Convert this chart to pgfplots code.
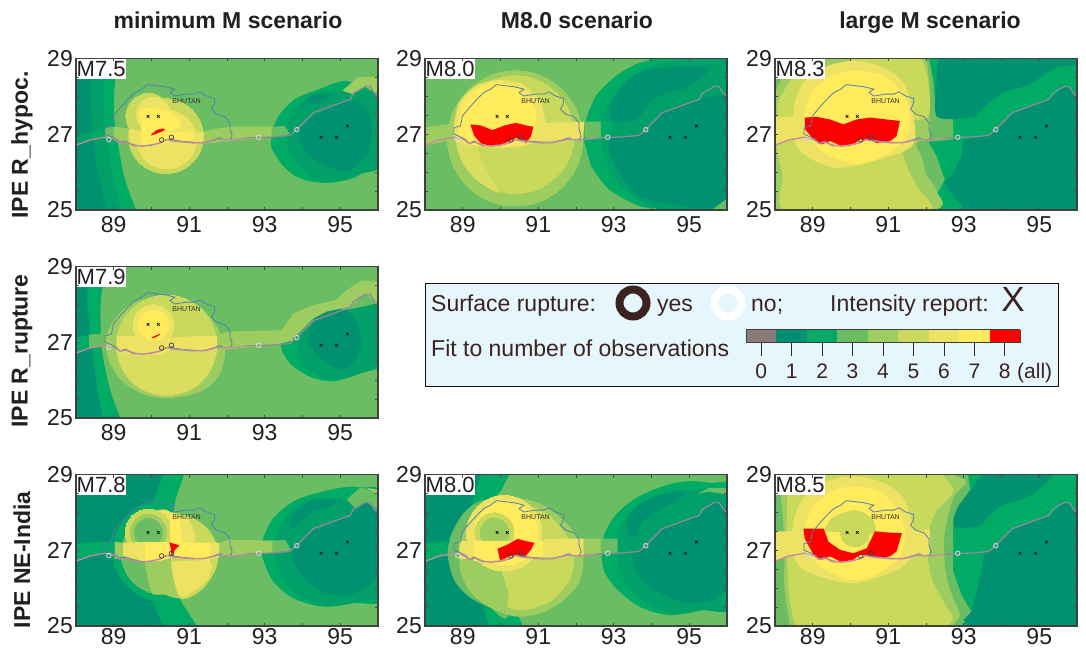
\documentclass[border=0pt]{standalone}
\usepackage{pgfplots}
\usepackage{pgfplotstable}
\usepackage{fontspec}
\setmainfont{Liberation Sans}
\pgfplotsset{compat=1.18}

\definecolor{c0}{HTML}{8B7B78}
\definecolor{c1}{HTML}{009270}
\definecolor{cm}{HTML}{00A068}
\definecolor{c2}{HTML}{00AB65}
\definecolor{c3}{HTML}{6BBD63}
\definecolor{c4}{HTML}{9DCC60}
\definecolor{c5}{HTML}{C8D95C}
\definecolor{c56}{HTML}{D9DD60}
\definecolor{c6}{HTML}{EEE265}
\definecolor{c7}{HTML}{FFEB5B}
\definecolor{c8}{HTML}{FF0000}
\definecolor{frontw}{HTML}{C48AA0}
\definecolor{fronte}{HTML}{8E8A9A}
\definecolor{borderline}{HTML}{5580A5}
\definecolor{txt}{HTML}{231F20}
\definecolor{legtxt}{HTML}{3B2320}
\definecolor{legbg}{HTML}{E6F6FD}

% Bhutan border
\pgfplotstableread{
x y
88.77 27.17
88.94 27.22
88.99 27.48
89.17 27.70
89.39 27.94
89.56 28.10
89.74 28.19
89.89 28.31
90.14 28.28
90.38 28.25
90.62 28.19
90.49 28.10
90.62 28.01
90.93 28.06
91.15 28.06
91.28 28.12
91.46 28.01
91.68 27.94
91.66 27.79
91.59 27.66
91.73 27.53
91.95 27.46
92.08 27.30
92.08 27.13
92.14 26.95
92.08 26.86
91.90 26.86
91.81 26.91
91.64 26.85
91.37 26.77
91.11 26.79
90.84 26.81
90.62 26.84
90.53 26.88
90.40 26.86
90.23 26.77
89.96 26.70
89.74 26.69
89.52 26.72
89.30 26.82
89.17 26.76
89.08 26.86
88.94 26.93
88.77 27.00
88.77 27.17
}\borderdata

% mountain front, west part
\pgfplotstableread{
x y
88.00 26.71
88.37 26.85
88.77 26.92
88.99 26.88
89.17 26.76
89.34 26.79
89.52 26.70
89.78 26.69
90.00 26.72
90.23 26.77
90.40 26.86
90.58 26.82
91.11 26.77
91.46 26.79
91.73 26.86
91.90 26.86
92.12 26.85
92.52 26.90
}\frontwest

% mountain front, east part
\pgfplotstableread{
x y
92.52 26.90
93.23 26.93
93.67 26.97
93.85 27.13
94.29 27.57
94.64 27.70
95.26 27.92
95.35 28.08
95.66 28.26
95.79 28.26
95.92 28.06
96.00 28.01
}\fronteast

\newcommand{\reg}[2]{\addplot[fill=#1,draw=none,forget plot] coordinates {#2};}
\newcommand{\creg}[2]{\addplot[fill=#1,draw=none,smooth,forget plot] coordinates {#2};}
\newcommand{\blob}[2]{\addplot[fill=#1,draw=none,smooth cycle,forget plot] coordinates {#2};}
\newcommand{\disc}[4]{\addplot[only marks,mark=*,mark size=#4*37.75pt,mark options={fill=#1,draw=#1,line width=0pt},forget plot] coordinates {(#2,#3)};}

\newcommand{\common}[1]{%
  \addplot[borderline,line width=0.8pt,forget plot] table[x=x,y=y] {\borderdata};
  \addplot[frontw,line width=1.3pt,forget plot] table[x=x,y=y] {\frontwest};
  \addplot[fronte,line width=1.3pt,forget plot] table[x=x,y=y] {\fronteast};
  \addplot[only marks,mark=x,mark size=1.9pt,mark options={black,line width=0.6pt},forget plot] coordinates {(89.91,27.47) (90.18,27.47) (94.49,26.92) (94.90,26.92) (95.19,27.22)};
  \addplot[only marks,mark=o,mark size=2.3pt,mark options={white!85!black,line width=0.8pt},forget plot] coordinates {(88.87,26.86) (92.84,26.92) (93.85,27.12)};
  \addplot[only marks,mark=o,mark size=2.3pt,mark options={black!75,line width=0.7pt},forget plot] coordinates {(90.27,26.85) (90.53,26.92)};
  \node[font=\fontsize{7}{8}\selectfont,text=black!80] at (90.93,27.88) {BHUTAN};
  \node[anchor=north west,fill=white,inner xsep=0.5pt,inner ysep=0pt,minimum height=20pt,text=txt,
        font=\fontsize{22}{24}\selectfont] at (rel axis cs:0,1) {#1};
}

\pgfplotsset{panel/.style={
  scale only axis,width=302pt,height=151.5pt,anchor=south west,
  clip mode=individual,
  xmin=88,xmax=96,ymin=25,ymax=29,
  xtick={89,91,93,95},minor xtick={90,92,94},
  ytick={25,27,29},minor ytick={25.5,26,26.5,27.5,28,28.5},
  tick align=inside,major tick length=3pt,minor tick length=3pt,
  tick style={black!70,line width=0.6pt},
  minor tick style={black!70,line width=0.6pt},
  axis line style={black!75,line width=1.1pt},
  axis on top,
  /pgf/number format/assume math mode=true,
  tick label style={font=\fontsize{23}{25}\selectfont,text=txt},
  xticklabel style={inner sep=0pt,yshift=-6pt},
  yticklabel style={inner sep=0pt,xshift=-3pt},
  axis background/.style={fill=c3},
},
lastrow/.style={xticklabel style={yshift=4pt}}}

\begin{document}
\begin{tikzpicture}[x=1pt,y=1pt]
\useasboundingbox (0,0) rectangle (1086,648);

% column and row titles
\node[anchor=base,font=\bfseries\fontsize{23}{25}\selectfont,text=txt] at (228,619) {minimum M scenario};
\node[anchor=base,font=\bfseries\fontsize{23}{25}\selectfont,text=txt] at (577,619) {M8.0 scenario};
\node[anchor=base,font=\bfseries\fontsize{23}{25}\selectfont,text=txt] at (930,619) {large M scenario};
\node[rotate=90,font=\bfseries\fontsize{23}{25}\selectfont,text=txt] at (22,503) {IPE R\_hypoc.};
\node[rotate=90,font=\bfseries\fontsize{23}{25}\selectfont,text=txt] at (22,297) {IPE R\_rupture};
\node[rotate=90,font=\bfseries\fontsize{23}{25}\selectfont,text=txt] at (22,88) {IPE NE-India};

% ---- row 1, minimum M
\begin{axis}[panel,at={(76pt,438pt)}]
\creg{c2}{(87.5,29.5)(89.2,29.5)(89.15,29)(89.03,28.37)(89.01,27.48)(89.12,26.68)(89.3,25.8)(89.59,25)(89.8,24.5)(87.5,24.5)}
\creg{cm}{(87.5,29.5)(88.8,29.5)(88.77,29)(88.74,28.2)(88.77,27.3)(88.9,26.25)(89.17,25)(89.3,24.5)(87.5,24.5)}
\creg{c1}{(87.5,29.5)(88.45,29.5)(88.42,29)(88.39,28.2)(88.42,27.3)(88.55,26.15)(88.8,25)(88.9,24.5)(87.5,24.5)}
\reg{cm}{(87.9,26.98)(88.42,27.05)(88.42,26.83)(87.9,26.68)}
\reg{c2}{(88.42,27.05)(88.77,27.17)(88.77,26.92)(88.42,26.83)}
\reg{c3}{(88.77,27.17)(89.01,27.2)(89.03,26.85)(88.77,26.92)}
\blob{c2}{(93.18,26.92)(93.23,27.18)(93.4,27.53)(93.8,27.93)(94.33,28.15)(95.04,28.4)(95.39,28.37)(96.3,28.37)(96.3,26.39)(95.92,26.21)(95.39,25.86)(94.77,25.72)(94.24,25.75)(93.8,25.9)(93.45,26.21)(93.18,26.65)}
\blob{cm}{(93.58,26.83)(93.62,27.36)(93.89,27.75)(94.33,28.08)(94.77,28.15)(95.3,28.11)(96.3,27.98)(96.3,26.3)(95.48,25.94)(94.77,25.75)(94.33,25.81)(93.89,26.17)(93.67,26.52)}
\blob{c1}{(93.89,26.96)(93.93,27.14)(94.33,27.49)(94.77,27.71)(95.3,27.89)(95.65,27.71)(95.83,27.36)(95.83,26.92)(95.7,26.47)(95.39,26.12)(95.04,26.03)(94.51,26.21)(94.07,26.56)}
\blob{c1}{(94.07,27.89)(94.33,28.05)(94.77,28.05)(94.59,27.89)(94.24,27.8)}
\reg{c4}{(95.06,28.15)(95.48,28.52)(96.1,28.5)(96.1,28.02)(95.83,28.15)(95.65,28.26)(95.32,28.06)}
\reg{c4}{(89.01,27.2)(89.4,27.15)(90.5,27.1)(91.4,27.08)(91.75,27.15)(92.15,27.2)(93.2,27.2)(93.2,26.93)(92.15,26.83)(91.4,26.75)(90.2,26.7)(89.01,26.85)}
\reg{c3}{(93.18,27.2)(93.53,27.22)(93.67,27.0)(93.18,26.92)}
\disc{c5}{90.38}{26.95}{0.99}
\disc{c6}{90.40}{26.86}{0.78}
\disc{c5}{89.92}{27.48}{0.60}
\disc{c6}{90.05}{27.53}{0.45}
\reg{c6}{(89.4,27.15)(89.7,27.08)(89.74,26.7)(89.43,26.77)}
\reg{c6}{(91.1,27.04)(91.39,27.04)(91.37,26.77)(91.11,26.81)}
\blob{c7}{(89.7,27.35)(89.66,27.6)(89.92,27.7)(90.45,27.6)(90.74,27.38)(90.69,27.14)(90.32,27.04)(89.92,26.95)(89.74,27.08)}
\reg{c7}{(89.7,27.08)(91.1,27.04)(91.1,26.82)(90.5,26.82)(90.23,26.73)(89.74,26.7)}
\blob{c8}{(89.98,26.97)(90.14,27.11)(90.34,27.15)(90.31,27.09)(90.09,27.0)}
\common{M7.5}
\end{axis}

% ---- row 1, M8.0
\begin{axis}[panel,at={(425pt,438pt)}]
\reg{c4}{(87.9,27.17)(88.6,27.26)(88.78,27.26)(88.78,26.86)(87.9,26.68)}
\disc{c4}{90.39}{26.89}{1.79}
\disc{c5}{90.39}{26.99}{1.56}
\blob{c56}{(88.84,26.86)(88.95,26.33)(89.35,25.8)(89.95,25.46)(89.6,26.1)(89.4,26.6)(89.3,26.86)}
\blob{c6}{(88.76,27.13)(88.91,27.83)(89.35,28.28)(89.93,28.43)(90.59,28.32)(91.07,27.83)(91.18,27.3)(91.12,26.86)(90.23,26.64)(88.91,26.77)}
\reg{c6}{(91.16,27.3)(92.09,27.32)(92.22,27.33)(92.22,26.9)(91.12,26.82)}
\blob{c7}{(88.91,26.95)(88.91,27.48)(89.04,27.92)(89.44,28.23)(89.93,28.38)(90.5,28.19)(90.9,27.7)(90.94,27.17)(90.68,26.82)(90.06,26.69)(89.35,26.7)}
\creg{c2}{(92.2,26.86)(92.24,27.3)(92.53,28.01)(93.06,28.54)(93.59,28.85)(93.99,29)(94.3,29.5)(96.5,29.5)(96.5,24.5)(94.4,24.5)(94.21,25)(93.68,25.1)(92.88,25.54)(92.4,26.16)}
\creg{cm}{(92.64,26.86)(92.66,27.3)(92.88,27.83)(93.32,28.36)(93.94,28.76)(94.65,28.96)(96.5,28.96)(96.5,25.05)(95.53,25)(94.3,25)(93.59,25.32)(93.06,25.8)(92.79,26.33)}
\reg{c3}{(92.22,27.33)(92.66,27.33)(92.66,26.88)(92.22,26.9)}
\reg{c2}{(92.66,27.33)(92.98,27.33)(92.9,26.9)(92.66,26.88)}
\blob{c1}{(92.97,27.35)(92.93,27.83)(93.32,28.36)(93.94,28.72)(95.49,28.74)(94.91,28.23)(94.3,28.06)(93.94,27.83)(93.59,27.39)}
\creg{c1}{(92.88,26.93)(93.77,27.0)(94.3,27.57)(95.27,27.92)(95.97,28.05)(96.5,28.05)(96.5,25.1)(95.53,25.05)(94.65,25.14)(93.68,25.36)(93.15,25.98)(92.88,26.51)}
\reg{c3}{(95.6,25)(96,25)(96,25.3)}
\reg{c8}{(89.2,27.26)(89.48,27.23)(89.79,27.11)(90.1,27.23)(90.41,27.3)(90.72,27.22)(90.87,27.2)(90.81,26.95)(90.68,26.77)(90.54,26.86)(90.41,26.9)(90.23,26.82)(89.97,26.7)(89.75,26.69)(89.48,26.76)(89.31,26.95)}
\common{M8.0}
\end{axis}

% ---- row 1, large M
\begin{axis}[panel,at={(775pt,438pt)},axis background/.style={fill=c2}]
\reg{c3}{(87.9,29.1)(92.06,29.1)(92.19,28.45)(92.28,27.45)(92.72,27.45)(92.72,26.86)(92.06,26.8)(92.28,26.42)(92.5,25.8)(92.28,25.41)(92.06,25)(87.9,24.9)}
\creg{c4}{(88.4,29)(88.13,28.36)(87.95,27.83)(87.95,25.72)(88.18,25)(92.15,25)(92.28,25.5)(92,25.96)(91.89,26.42)(91.75,26.73)(92.06,27.46)(92.1,28.2)(92.02,29)}
\reg{c4}{(91.75,27.46)(92.1,27.46)(92.1,26.86)(91.75,26.8)}
\creg{c5}{(88.75,29.2)(88.45,28.5)(88.1,27.9)(88.06,27.4)(88.06,26.6)(88.2,25.9)(88.4,24.9)(92.02,24.9)(91.75,25.63)(91.49,26.16)(91.37,26.73)(91.75,26.86)}
\creg{c5}{(91,29.2)(91.84,29)(92.06,28.36)(92.06,27.46)(91.4,27.4)}
\reg{c5}{(90,29.1)(91.84,29.1)(91.75,27.46)(90,27)}
\reg{c6}{(87.9,27.45)(88.51,27.45)(88.51,26.86)(87.9,26.68)}
\blob{c6}{(88.51,26.86)(88.51,27.75)(88.75,28.36)(89.28,28.76)(90.07,28.94)(90.87,28.76)(91.4,28.36)(91.62,27.75)(91.71,26.86)(91.31,26.51)(89.72,26.11)(88.84,26.42)}
\blob{c7}{(88.79,27.44)(88.97,28.1)(89.46,28.54)(90.16,28.67)(90.87,28.54)(91.4,28.06)(91.58,27.44)(91.4,26.82)(90.87,26.42)(90.16,26.2)(89.46,26.42)(88.97,26.82)}
\creg{c1}{(92.41,29.2)(96.4,29.2)(96.4,28.87)(95.46,28.76)(94.75,28.32)(94.05,28.1)(93.52,27.7)(93.25,27.46)(92.3,27.46)(92.28,28.36)(92.28,28.76)}
\reg{c1}{(93.0,26.86)(93.7,26.97)(93.87,27.13)(94.31,27.57)(95.28,27.92)(95.42,28.06)(95.68,28.28)(95.8,28.28)(95.9,28.05)(96.1,28.0)(96.1,24.9)(93.17,24.9)(92.72,25.36)(92.48,25.72)(92.72,25.98)(92.94,26.42)}
\reg{c8}{(88.79,27.44)(89.1,27.46)(89.46,27.39)(89.81,27.26)(90.16,27.39)(90.52,27.44)(90.96,27.39)(91.31,27.35)(91.22,26.95)(91.05,26.82)(90.69,26.77)(90.52,26.84)(90.25,26.86)(90.07,26.73)(89.76,26.69)(89.46,26.82)(89.24,26.73)(89.02,26.86)(88.79,27.14)}
\common{M8.3}
\end{axis}

% ---- row 2, minimum M
\begin{axis}[panel,at={(76pt,230pt)}]
\creg{c2}{(87.5,29.5)(88.8,29.5)(88.77,29)(88.66,28.12)(88.65,27.5)(88.68,26.8)(88.9,25.75)(89.17,25)(89.3,24.5)(87.5,24.5)}
\creg{c1}{(87.5,29.5)(88.4,29.5)(88.35,29)(88.3,28.1)(88.4,27)(88.55,25.9)(88.7,25)(88.8,24.5)(87.5,24.5)}
\reg{c2}{(87.9,27.1)(88.35,27.2)(88.35,26.85)(87.9,26.68)}
\reg{c3}{(88.35,27.2)(88.67,27.23)(88.7,26.88)(88.35,26.85)}
\blob{c2}{(93.43,26.88)(93.54,27.28)(93.93,27.45)(94.33,27.81)(95.26,27.87)(96.3,27.96)(96.3,26.53)(95.52,26.17)(94.82,25.97)(94.2,26.09)(93.67,26.44)}
\blob{cm}{(93.85,26.88)(93.93,27.15)(94.33,27.59)(95.17,27.85)(96.3,27.92)(96.3,26.62)(95.35,26.13)(94.55,26.04)(94.02,26.44)}
\blob{c1}{(94.14,27.06)(94.29,27.54)(94.55,27.81)(95.17,27.85)(95.48,27.41)(95.57,26.97)(95.39,26.53)(95.08,26.28)(94.64,26.44)(94.29,26.79)}
\reg{c4}{(93.45,27.32)(93.76,27.76)(94.29,27.98)(94.9,28.12)(95.17,28.38)(95.57,28.63)(96.1,28.6)(96.1,27.92)(95.66,28.29)(95.26,27.94)(94.64,27.81)(94.29,27.63)(93.89,27.23)(93.67,27.06)}
\reg{c4}{(91.73,27.16)(92,27.28)(93.45,27.32)(93.67,27.23)(93.76,27.05)(93.23,26.92)(92,26.81)(91.73,26.79)}
\blob{c4}{(88.79,26.92)(88.9,27.41)(89.34,27.94)(89.96,28.18)(90.58,28.22)(91.28,27.94)(91.73,27.41)(91.95,26.79)(91.81,26.17)(91.37,25.73)(90.58,25.53)(89.87,25.6)(89.25,25.95)(88.9,26.44)}
\reg{c4}{(88.77,27.23)(89.08,27.16)(89.08,26.75)(88.77,26.88)}
\disc{c5}{90.4}{26.92}{1.33}
\creg{c56}{(89.08,26.75)(89.25,26.25)(89.7,25.78)(90.4,25.6)(91.1,25.78)(91.55,26.25)(91.73,26.79)}
\reg{c6}{(89.08,27.16)(89.52,27.16)(90.58,27.12)(91.11,27.16)(91.73,27.16)(91.73,26.79)(91.37,26.79)(90.58,26.84)(90.23,26.66)(89.74,26.66)(89.08,26.75)}
\disc{c6}{90.05}{27.45}{0.54}
\disc{c7}{90.05}{27.45}{0.4}
\blob{c8}{(90,27.12)(90.14,27.19)(90.23,27.22)(90.18,27.17)(90.07,27.12)}
\common{M7.9}
\end{axis}

% ---- legend
\draw[black!60!legtxt,fill=legbg,line width=0.9pt] (425,262) rectangle (1058,365);
\begin{scope}[every node/.style={font=\fontsize{23}{25}\selectfont,inner sep=0pt,text=legtxt}]
\node[anchor=base west] at (431,336) {Surface rupture:};
\draw[legtxt,line width=8pt] (633,345) circle (13.5);
\node[anchor=base west] at (657,336) {yes};
\draw[white,line width=8pt] (728,345) circle (13.5);
\node[anchor=base west] at (751,336) {no;};
\node[anchor=base west] at (830,336) {Intensity report:};
\node[anchor=base,font=\fontsize{35}{37}\selectfont] at (1013,336) {X};
\node[anchor=base west] at (431,291) {Fit to number of observations};
\node[anchor=base west,font=\fontsize{21}{23}\selectfont] at (1017,269) {(all)};
\end{scope}
\begin{axis}[at={(746pt,305pt)},anchor=south west,scale only axis,width=274pt,height=13pt,
  xmin=-0.5,xmax=8.5,ymin=0,ymax=1,ytick=\empty,
  xtick={0,1,2,3,4,5,6,7,8},axis x line*=bottom,
  tick align=outside,major tick length=13pt,
  tick style={legtxt,line width=0.8pt},
  axis line style={black!75,line width=1pt},
  /pgf/number format/assume math mode=true,
  tick label style={font=\fontsize{21}{23}\selectfont,text=legtxt,inner sep=0pt,yshift=-8pt},
  axis on top]
\reg{c0}{(-0.5,0)(-0.5,1)(0.5,1)(0.5,0)}
\reg{c1}{(0.5,0)(0.5,1)(1.5,1)(1.5,0)}
\reg{c2}{(1.5,0)(1.5,1)(2.5,1)(2.5,0)}
\reg{c3}{(2.5,0)(2.5,1)(3.5,1)(3.5,0)}
\reg{c4}{(3.5,0)(3.5,1)(4.5,1)(4.5,0)}
\reg{c5}{(4.5,0)(4.5,1)(5.5,1)(5.5,0)}
\reg{c6}{(5.5,0)(5.5,1)(6.5,1)(6.5,0)}
\reg{c7}{(6.5,0)(6.5,1)(7.5,1)(7.5,0)}
\reg{c8}{(7.5,0)(7.5,1)(8.5,1)(8.5,0)}
\addplot[black!75,line width=1pt,forget plot] coordinates {(-0.5,1)(8.5,1)};
\end{axis}

% ---- row 3, minimum M
\begin{axis}[panel,lastrow,at={(76pt,22pt)}]
\creg{c2}{(87.5,29.5)(91,29.5)(90.86,29)(90.62,28.25)(90.49,27.23)(90.53,26.53)(90.75,25.73)(91.2,25)(91.5,24.5)(87.5,24.5)}
\creg{c1}{(87.5,29.5)(90.5,29.5)(90.31,29)(90.05,28.29)(89.85,27.32)(89.83,26.62)(90,25.73)(90.31,25)(90.5,24.5)(87.5,24.5)}
\reg{c2}{(87.9,27.15)(88.55,27.22)(89.03,27.22)(89.03,26.76)(88.77,26.95)(87.9,26.68)}
\blob{c2}{(92.92,26.92)(92.96,27.32)(93.23,27.85)(93.76,28.29)(94.38,28.51)(95.08,28.66)(95.52,28.66)(96.3,28.4)(96.3,25.82)(95.35,25.6)(94.55,25.51)(93.76,25.73)(93.23,26.17)(93.01,26.62)}
\blob{cm}{(93.27,26.88)(93.32,27.41)(93.58,27.9)(93.93,28.21)(94.38,28.38)(95.17,28.34)(96.3,28.2)(96.3,26)(95.26,25.6)(94.46,25.56)(93.76,25.91)(93.4,26.44)}
\reg{c1}{(93.71,26.97)(93.85,27.13)(94.29,27.57)(95.26,27.91)(95.39,28.07)(95.66,28.28)(95.79,28.28)(95.92,28.07)(96.1,28)(96.1,26.4)(95.7,26)(95.17,25.78)(94.55,25.87)(94.02,26.26)(93.76,26.7)}
\blob{c1}{(93.67,27.81)(93.93,28.12)(94.38,28.34)(95.04,28.34)(94.64,28.12)(94.29,28.03)(93.93,27.76)(93.76,27.54)}
\reg{c3}{(95.17,28.34)(95.52,28.65)(96.1,28.58)(96.1,28)(95.92,28.12)(95.66,28.29)(95.39,28.12)}
\reg{c4}{(95.7,28.65)(96.1,28.58)(96.1,28.42)}
\reg{c3}{(92.95,27.25)(93.55,27.27)(93.7,27)(93.2,26.93)}
\reg{c4}{(91.79,27.2)(92.1,27.28)(93.2,27.25)(93.2,26.93)(92.1,26.84)(91.79,26.85)}
\blob{c2}{(88.99,26.88)(89.03,27.41)(89.34,27.85)(89.78,28.21)(90.23,28.25)(90.6,28)(90.7,26)(90.23,25.7)(89.7,25.78)(89.25,26.17)(89.03,26.53)}
\disc{c3}{90.3}{26.93}{1.1}
\creg{c4}{(89.85,27.32)(90.05,28.01)(90.49,28)(90.49,27.2)(90.53,26.53)(90.75,25.76)(90.3,25.84)(90,25.88)(89.83,26.62)}
\creg{c6}{(90.05,28.01)(90.49,28.01)(90.49,27.2)(89.85,27.2)}
\creg{c5}{(90.49,28.01)(91.11,27.85)(91.55,27.5)(91.77,26.97)(91.68,26.44)(91.28,25.91)(90.75,25.73)(90.53,26.53)(90.49,27.2)}
\creg{c6}{(90.53,26.7)(91.55,26.7)(91.5,26.26)(91.11,25.91)(90.75,25.8)(90.53,26.53)}
\disc{c5}{89.92}{27.47}{0.62}
\creg{c6}{(90.49,28)(90.9,27.85)(91.1,27.6)(91.12,27.2)(90.49,27.2)}
\creg{c7}{(90.49,27.98)(90.72,27.85)(90.78,27.5)(90.76,27.2)(90.49,27.2)}
\disc{c4}{89.92}{27.47}{0.48}
\disc{c3}{89.92}{27.47}{0.37}
\reg{c4}{(89.03,27.22)(89.25,27.2)(89.25,26.85)(89.03,26.76)}
\reg{c6}{(89.25,27.2)(89.83,27.22)(89.83,26.7)(89.25,26.85)}
\reg{c7}{(89.83,27.22)(91.55,27.2)(91.55,26.72)(90.5,26.8)(90.23,26.72)(89.83,26.68)}
\reg{c6}{(91.55,27.2)(91.79,27.2)(91.79,26.8)(91.55,26.76)}
\reg{c8}{(90.47,27.21)(90.74,27.13)(90.62,27.01)(90.53,26.85)(90.51,27.06)}
\common{M7.8}
\end{axis}

% ---- row 3, M8.0
\begin{axis}[panel,lastrow,at={(425pt,22pt)}]
\creg{c2}{(87.5,29.5)(90.4,29.5)(90.23,29)(89.97,28.38)(89.9,27)(89.97,26.62)(90.23,25.82)(90.59,25)(90.8,24.5)(87.5,24.5)}
\creg{c1}{(87.5,29.5)(89.6,29.5)(89.48,29)(89.26,28.29)(89.13,27.32)(89.26,26.62)(89.44,25.82)(89.7,25)(89.85,24.5)(87.5,24.5)}
\reg{c2}{(87.9,27.17)(88.6,27.26)(88.6,26.86)(87.9,26.68)}
\blob{c2}{(92.68,26.88)(92.75,27.41)(93.06,27.94)(93.59,28.38)(94.3,28.69)(94.91,28.82)(95.53,28.78)(96.3,28.55)(96.3,25.72)(95.36,25.42)(94.47,25.29)(93.68,25.51)(93.06,26)(92.75,26.44)}
\blob{cm}{(93.1,26.88)(93.19,27.59)(93.59,28.12)(94.12,28.43)(94.91,28.6)(96.3,28.35)(96.3,25.6)(95.27,25.42)(94.47,25.34)(93.68,25.73)(93.24,26.26)}
\blob{c1}{(93.41,27.37)(93.37,27.85)(93.68,28.21)(94.21,28.47)(94.91,28.54)(94.65,28.29)(94.21,28.07)(93.77,27.76)(93.59,27.37)}
\reg{c1}{(93.46,26.97)(93.77,27.01)(94.3,27.57)(95.27,27.91)(95.66,28.28)(96.1,28.03)(96.1,26)(95.53,25.64)(94.83,25.6)(93.94,26)(93.59,26.44)}
\reg{c3}{(95.22,28.49)(95.53,28.65)(96.1,28.65)(96.1,28.45)(95.53,28.55)}
\reg{c4}{(92.2,27.31)(92.66,27.31)(92.66,26.9)(92.2,26.88)}
\reg{c3}{(92.66,27.31)(93.1,27.31)(93.1,26.93)(92.66,26.9)}
\blob{c3}{(88.6,26.86)(88.69,27.4)(89,27.95)(89.35,28.25)(89.8,28.38)(90.23,28.45)(90.23,25.35)(89.7,25.5)(89.17,25.77)(88.78,26.2)}
\blob{c4}{(88.91,26.88)(89,27.41)(89.26,27.85)(89.97,28.34)(90.3,28.4)(91,28.25)(91.55,27.9)(92,27.4)(92.2,26.9)(92.1,26.2)(91.7,25.7)(91.1,25.35)(90.4,25.25)(89.7,25.5)(89.2,25.9)(88.95,26.4)}
\creg{c5}{(89.97,26.62)(89.9,27.3)(89.97,28.33)(90.6,28.2)(91.2,28)(91.75,27.4)(91.95,26.9)(91.85,26.25)(91.4,25.7)(90.7,25.43)(90.2,25.5)(90.23,25.82)}
\disc{c6}{90.1}{27.45}{1.0}
\disc{c7}{90.15}{27.45}{0.84}
\disc{c5}{89.84}{27.47}{0.52}
\disc{c4}{89.84}{27.47}{0.38}
\reg{c6}{(88.91,27.25)(89.3,27.25)(89.3,26.78)(88.91,26.77)}
\reg{c7}{(89.3,27.25)(91.16,27.25)(91.12,26.82)(90.5,26.82)(90.23,26.77)(89.96,26.7)(89.3,26.72)}
\reg{c6}{(91.16,27.3)(92.2,27.31)(92.2,26.88)(91.12,26.82)}
\reg{c8}{(89.92,27.04)(90.19,27.15)(90.45,27.3)(90.76,27.22)(90.9,27.2)(90.81,27.02)(90.63,26.8)(90.45,26.88)(90.23,26.84)(89.99,26.72)}
\common{M8.0}
\end{axis}

% ---- row 3, large M
\begin{axis}[panel,lastrow,at={(775pt,22pt)},axis background/.style={fill=c2}]
\reg{c3}{(87.9,29.1)(93.1,29.1)(93.17,28.6)(92.85,28.15)(92.72,27.85)(92.72,26.88)(92.72,26.44)(92.94,25.82)(93.2,25.38)(92.94,25)(87.9,24.9)}
\creg{c4}{(88.3,29.5)(88.25,29)(88.15,28.5)(88.2,28)(88.25,27)(88.25,26)(88.4,25)(88.5,24.5)(92.6,24.5)(92.72,25)(92.9,25.29)(92.72,25.73)(92.55,26.26)(92.48,26.88)(92.5,27.5)(92.72,28.38)(93.07,28.82)(92.72,29)(92.6,29.5)}
\creg{c5}{(88.4,29.5)(88.35,29)(88.31,27.76)(88.35,26)(88.53,25)(88.65,24.5)(92.5,24.5)(92.59,25)(92.72,25.2)(92.46,25.65)(92.15,26.26)(92.04,26.88)(92.1,27.59)(92.28,28.03)(92.72,28.56)(92.46,29)(92.4,29.5)}
\reg{c6}{(87.9,27.5)(88.49,27.5)(88.49,26.88)(87.9,26.68)}
\reg{c6}{(91.4,27.5)(92.1,27.55)(92.1,26.9)(91.4,26.8)}
\blob{c6}{(88.49,26.88)(88.49,27.76)(88.75,28.38)(89.28,28.78)(90.07,28.96)(90.87,28.78)(91.4,28.38)(91.66,27.58)(91.66,26.97)(91.31,26.53)(90.07,26.13)(88.84,26.44)}
\blob{c7}{(88.79,27.45)(88.97,28.1)(89.46,28.54)(90.1,28.69)(90.8,28.54)(91.25,28.06)(91.45,27.45)(91.3,26.82)(90.8,26.42)(90.1,26.2)(89.46,26.42)(88.97,26.82)}
\blob{c1}{(92.77,27.63)(92.81,28.07)(93.17,28.56)(93.78,29.2)(95.46,29.2)(94.75,28.43)(94.05,28.21)(93.65,27.9)(93.39,27.63)}
\reg{c1}{(93.55,26.97)(93.7,26.97)(93.87,27.15)(94.31,27.57)(95.28,27.91)(95.68,28.28)(95.81,28.28)(95.9,28.07)(96.1,28.02)(96.1,24.9)(93.21,24.9)(92.99,25.16)(93.21,25.38)(93.47,26.44)}
\creg{c5}{(89.3,27.5)(89.52,27.86)(90.12,28.06)(90.56,27.84)(90.65,27.47)(90.12,27.45)}
\disc{c5}{90.12}{27.47}{0.38}
\reg{c8}{(88.75,27.57)(89.28,27.57)(89.3,27.55)(89.41,27.23)(89.72,27.01)(90.07,26.92)(90.43,27.05)(90.65,27.5)(90.96,27.47)(91.36,27.45)(91.22,26.97)(91.05,26.84)(90.69,26.79)(90.52,26.86)(90.25,26.88)(90.07,26.75)(89.76,26.69)(89.46,26.84)(89.24,26.75)(89.02,26.88)(88.79,27.3)}
\common{M8.5}
\end{axis}
\end{tikzpicture}
\end{document}
